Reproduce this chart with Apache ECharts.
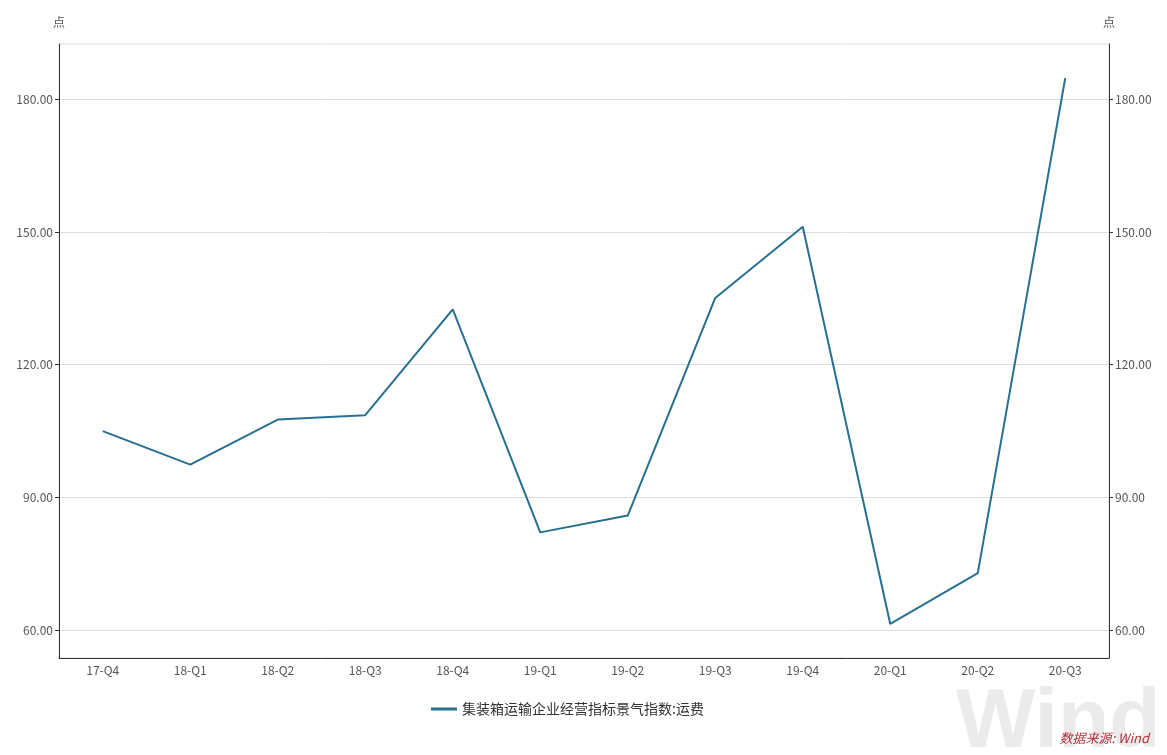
<!DOCTYPE html>
<html><head><meta charset="utf-8">
<script src="https://cdn.jsdelivr.net/npm/echarts@6/dist/echarts.min.js"></script>
<style>html,body{margin:0;padding:0;background:#fff}#c{width:1167px;height:755px}</style>
</head><body><div id="c"></div>
<script>
const categories = ['17-Q4','18-Q1','18-Q2','18-Q3','18-Q4','19-Q1','19-Q2','19-Q3','19-Q4','20-Q1','20-Q2','20-Q3'];
const freightIndex = [105.0, 97.4, 107.6, 108.6, 132.5, 82.1, 85.9, 135.1, 151.2, 61.4, 72.9, 184.8];
const yTicks = [60, 90, 120, 150, 180];
const seriesName = '集装箱运输企业经营指标景气指数:运费';
const unitName = '点';

const chart = echarts.init(document.getElementById('c'));
const font = '"Noto Sans CJK SC", "Microsoft YaHei", sans-serif';
function yAxis(pos){
  return {
    type:'value', position:pos, min:53.7, max:192.5,
    name:unitName, nameLocation:'end', nameGap:16,
    nameTextStyle:{color:'#555', fontSize:12, fontFamily:font, align:'center', padding:[0,0,0,0]},
    axisLine:{show:true, lineStyle:{color:'#333', width:1}},
    axisTick:{show:true, length:4, customValues:yTicks, lineStyle:{color:'#333'}},
    axisLabel:{customValues:yTicks, color:'#555', fontSize:12, fontFamily:font, margin:6,
      formatter:v=>v.toFixed(2)},
    splitLine:{show:pos==='left', lineStyle:{color:'#ddd', width:1}}
  };
}
chart.setOption({
  backgroundColor:'#fff',
  animation:false,
  grid:{left:59, right:58, top:44, bottom:97, show:true, borderColor:'#ddd', borderWidth:1},
  legend:{bottom:34, left:426, itemWidth:26, itemHeight:3, icon:'rect', itemGap:6,
    textStyle:{color:'#333', fontSize:14, fontFamily:font}, data:[seriesName]},
  xAxis:{type:'category', data:categories, boundaryGap:true,
    axisLine:{lineStyle:{color:'#333'}},
    axisTick:{alignWithLabel:true, length:4, lineStyle:{color:'#333'}},
    axisLabel:{color:'#555', fontSize:12, fontFamily:font, margin:6}},
  yAxis:[yAxis('left'), yAxis('right')],
  graphic:[
    {type:'text', left:956, top:682, z:0, style:{text:'Wind', fontSize:84, fontWeight:'bold',
      fontFamily:'Arial, "Liberation Sans", sans-serif', fill:'#ebebeb'}},
    {type:'text', right:18, bottom:10, z:10, style:{text:'数据来源: Wind', fontSize:13, fontStyle:'italic',
      fontFamily:font, fill:'#b0303a'}}
  ],
  series:[{name:seriesName, type:'line', data:freightIndex, symbol:'none',
    lineStyle:{color:'#27708f', width:2}, itemStyle:{color:'#27708f'}}]
});
</script></body></html>
